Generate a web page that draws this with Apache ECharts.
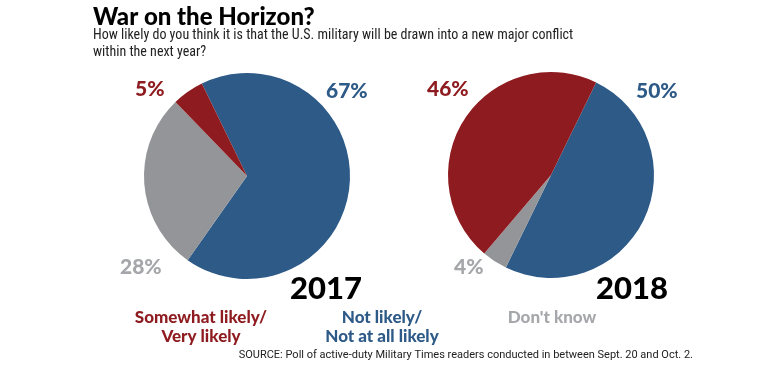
<!DOCTYPE html>
<html>
<head>
<meta charset="utf-8">
<script src="https://cdn.jsdelivr.net/npm/echarts@6/dist/echarts.min.js"></script>
<style>
  html, body { margin: 0; padding: 0; background: #fff; }
  #chart { width: 784px; height: 377px; }
</style>
</head>
<body>
<div id="chart"></div>
<script>
// categories, in the order drawn clockwise
const categories = ["Not likely/\nNot at all likely", "Don't know", "Somewhat likely/\nVery likely"];
const values2017 = [67, 28, 5];
const values2018 = [50, 4, 46];
const years = ["2017", "2018"];

const colors = ["#2e5a88", "#939598", "#8e1b1f"];
const labelColors = ["#2e5a88", "#a5a7aa", "#8e1b1f"];
const heavy = "'Lato Black', 'Lato Heavy', Lato";
const light = "'Liberation Sans Narrow', 'Roboto Condensed', Roboto";

const chart = echarts.init(document.getElementById("chart"));

// percent label spots (left/top of text) for each pie
const labelSpots = {
  "2017": [[326, 81], [120, 257], [135, 79]],
  "2018": [[636, 81], [454, 257], [427, 79]]
};

const makePie = (year, values, center, startAngle) => ({
  type: "pie",
  name: year,
  center: center,
  radius: [0, 103],
  startAngle: startAngle,
  clockwise: true,
  silent: true,
  data: values.map((v, i) => ({
    value: v,
    name: categories[i],
    itemStyle: { color: colors[i] },
    label: { color: labelColors[i] }
  })),
  itemStyle: { borderWidth: 0 },
  label: {
    show: true,
    position: "outside",
    formatter: "{c}%",
    fontFamily: heavy,
    fontWeight: 900,
    fontSize: 21
  },
  labelLine: { show: false },
  labelLayout: (params) => {
    const p = labelSpots[year][params.dataIndex];
    return { x: p[0], y: p[1], align: "left", verticalAlign: "top" };
  }
});

const legendFont = "900 17px " + heavy;

chart.setOption({
  animation: false,
  title: {
    text: "War on the Horizon?",
    left: 88,
    top: 0,
    textStyle: { fontFamily: heavy, fontWeight: 900, fontSize: 24, color: "#000" }
  },
  series: [
    makePie(years[0], values2017, [247, 176], 116),
    makePie(years[1], values2018, [551, 175], 64)
  ],
  graphic: [
    { type: "text", x: 93, y: 27, style: { text: "How likely do you think it is that the U.S. military will be drawn into a new major conflict\nwithin the next year?", fill: "#222", font: "14px " + light, lineHeight: 17 } },
    { type: "text", left: 290, top: 273, style: { text: years[0], fill: "#000", font: "900 31px " + heavy } },
    { type: "text", left: 596, top: 273, style: { text: years[1], fill: "#000", font: "900 31px " + heavy } },
    { type: "text", x: 201, y: 308, style: { text: categories[2], fill: colors[2], font: legendFont, textAlign: "center", lineHeight: 19 } },
    { type: "text", x: 382, y: 308, style: { text: categories[0], fill: colors[0], font: legendFont, textAlign: "center", lineHeight: 19 } },
    { type: "text", x: 552, y: 308, style: { text: categories[1], fill: labelColors[1], font: legendFont, textAlign: "center", lineHeight: 19 } },
    { type: "text", x: 693, y: 350, style: { text: "SOURCE: Poll of active-duty Military Times readers conducted in between Sept. 20 and Oct. 2.", fill: "#222", font: "11px Roboto", textAlign: "right" } }
  ]
});
</script>
</body>
</html>
